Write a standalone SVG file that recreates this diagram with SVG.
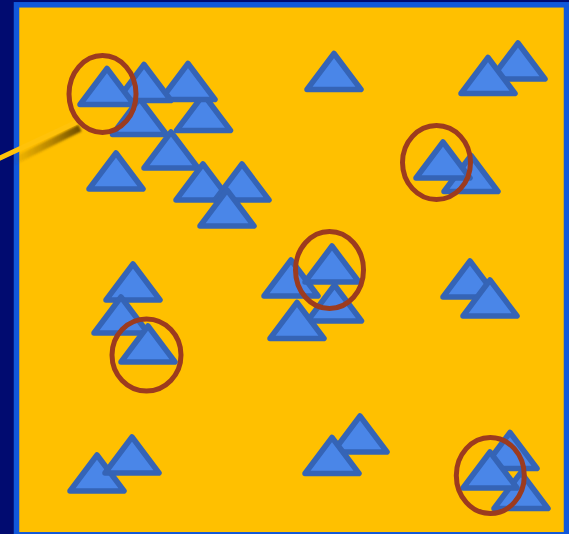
<svg xmlns="http://www.w3.org/2000/svg" xmlns:xlink="http://www.w3.org/1999/xlink" width="569" height="534" viewBox="0 0 569 534">
  <style>
    .tri { fill: #4a86e8; stroke: #3564b6; stroke-width: 5.5; stroke-linejoin: round; }
    .ring { fill: none; stroke: #9c3b1f; stroke-width: 5; }
  </style>
  <defs>
    <path id="t" class="tri" d="M0,0 L27,36 L-27,36 Z"/>
    <filter id="sh" x="-20%" y="-50%" width="140%" height="200%">
      <feGaussianBlur stdDeviation="1.2"/>
    </filter>
    <linearGradient id="shg" gradientUnits="userSpaceOnUse" x1="10" y1="0" x2="80" y2="0">
      <stop offset="0" stop-color="#5a3c00" stop-opacity="0"/>
      <stop offset="0.6" stop-color="#5a3c00" stop-opacity="0.45"/>
      <stop offset="1" stop-color="#4a3000" stop-opacity="0.8"/>
    </linearGradient>
  </defs>
  <rect x="0" y="0" width="569" height="534" fill="#010b70"/>
  <rect id="board" x="16.5" y="4.8" width="550" height="530" fill="#ffc000" stroke="#1158da" stroke-width="5.5"/>

  <g id="pointer">
    <line x1="12" y1="162" x2="80" y2="128" stroke="url(#shg)" stroke-width="7" filter="url(#sh)"/>
    <line x1="-2" y1="159" x2="79" y2="121" stroke="#ffc20a" stroke-width="5"/>
  </g>

  <g id="triangles">
    <use id="tri-e" href="#t" x="203.5" y="94.5"/>
    <use id="tri-d" href="#t" x="139.5" y="98.5"/>
    <use id="tri-c" href="#t" x="188" y="63.5"/>
    <use id="tri-b" href="#t" x="144" y="64.5"/>
    <use id="tri-a" href="#t" x="107" y="68.5"/>
    <use id="tri-f" href="#t" x="171" y="132"/>
    <use id="tri-g" href="#t" x="116" y="153"/>
    <use id="tri-h" href="#t" x="203" y="164"/>
    <use id="tri-i" href="#t" x="242" y="164"/>
    <use id="tri-j" href="#t" x="227" y="190"/>

    <use id="tri-top" href="#t" x="334" y="53.5"/>

    <use id="tri-k" href="#t" x="518" y="43"/>
    <use id="tri-l" href="#t" x="488" y="57.5"/>
    <use id="tri-n" href="#t" x="471" y="155.5"/>
    <use id="tri-m" href="#t" x="443" y="142"/>

    <use id="tri-o" href="#t" x="133" y="264"/>
    <use id="tri-p" href="#t" x="121" y="297"/>
    <use id="tri-q" href="#t" x="148" y="326"/>

    <use id="tri-r" href="#t" x="291" y="260"/>
    <use id="tri-t" href="#t" x="334.5" y="285"/>
    <use id="tri-s" href="#t" x="332" y="246"/>
    <use id="tri-u" href="#t" x="297" y="302.5"/>

    <use id="tri-v" href="#t" x="470" y="261"/>
    <use id="tri-w" href="#t" x="490" y="280"/>

    <use id="tri-x" href="#t" x="97" y="455"/>
    <use id="tri-y" href="#t" x="132" y="437"/>

    <use id="tri-z" href="#t" x="360" y="416"/>
    <use id="tri-aa" href="#t" x="332" y="437.5"/>

    <use id="tri-bb" href="#t" x="510" y="432.5"/>
    <use id="tri-dd" href="#t" x="521" y="472.5"/>
    <use id="tri-cc" href="#t" x="490" y="452"/>
  </g>

  <g id="rings">
    <ellipse id="ring-1" class="ring" cx="102.5" cy="94" rx="33.5" ry="38.5"/>
    <ellipse id="ring-2" class="ring" cx="436.5" cy="162.5" rx="34" ry="37"/>
    <ellipse id="ring-3" class="ring" cx="329.5" cy="270" rx="34" ry="38.5"/>
    <ellipse id="ring-4" class="ring" cx="146.5" cy="355" rx="34.5" ry="36"/>
    <ellipse id="ring-5" class="ring" cx="490.3" cy="475.5" rx="34" ry="38"/>
  </g>
</svg>
